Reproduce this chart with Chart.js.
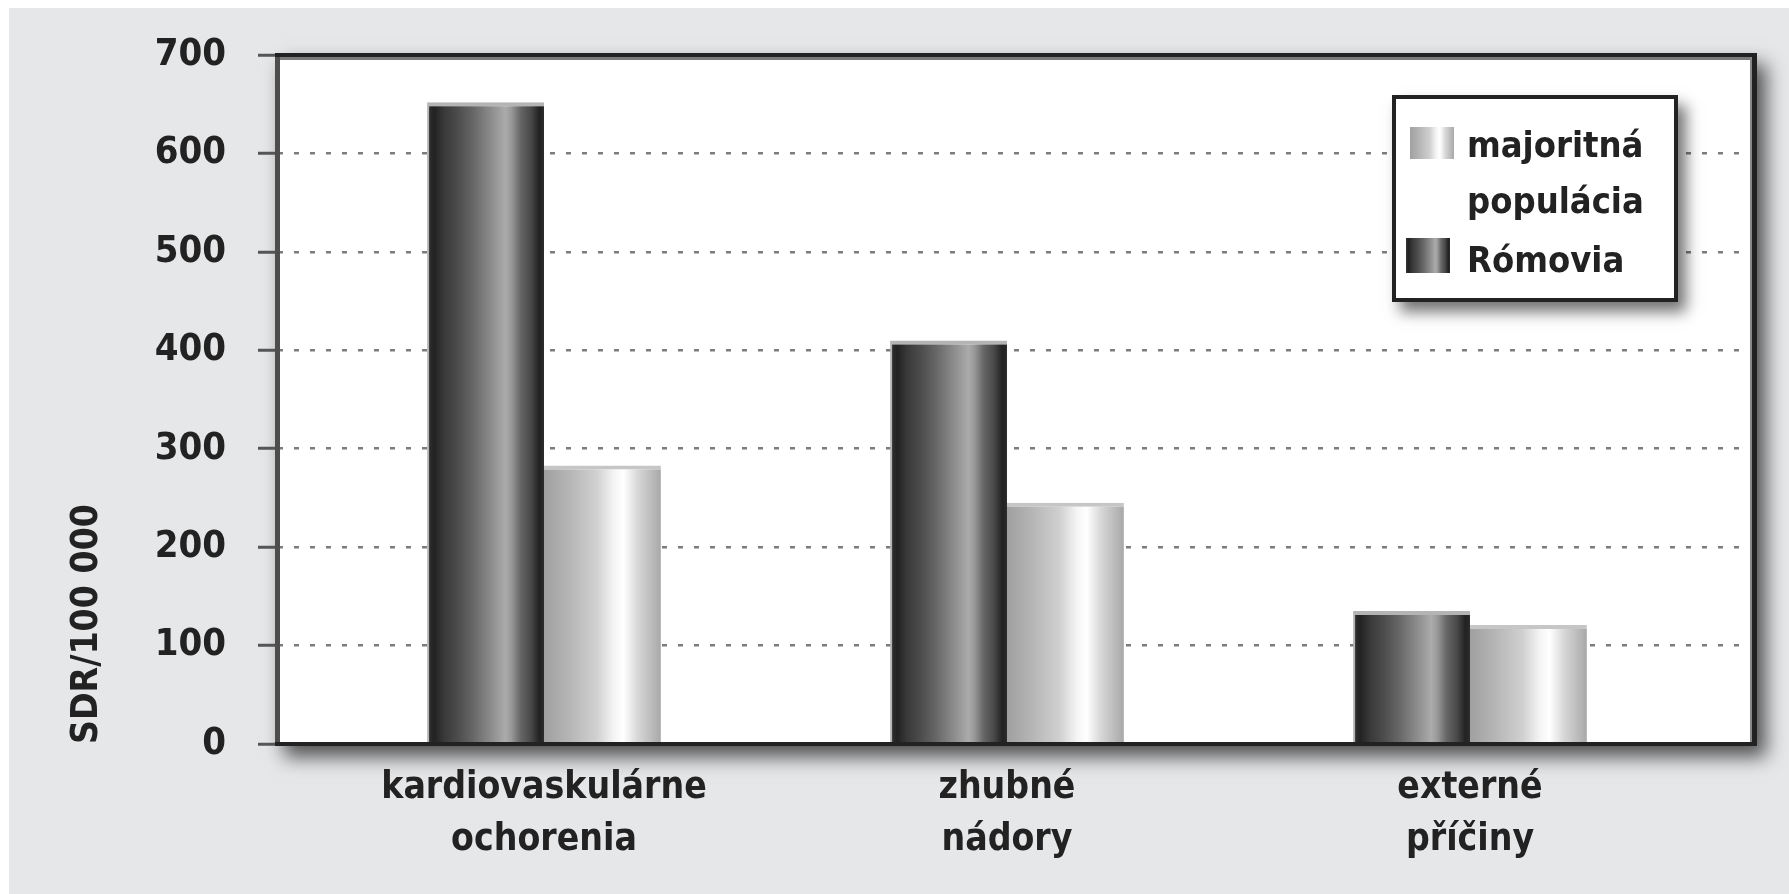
<!DOCTYPE html>
<html>
<head>
<meta charset="utf-8">
<title>SDR/100 000</title>
<script src="https://cdn.jsdelivr.net/npm/chart.js@4.4.1/dist/chart.umd.min.js"></script>
<style>
  html, body { margin: 0; padding: 0; background: #fff; }
  canvas { display: block; }
</style>
</head>
<body>
<canvas id="myChart" width="1789" height="894"></canvas>
<script>
// values
const categories = [['kardiovaskulárne', 'ochorenia'], ['zhubné', 'nádory'], ['externé', 'příčiny']];
const romovia = [652, 410, 135];
const majoritna = [283, 245, 121];
const seriesLabels = [['Rómovia'], ['majoritná', 'populácia']];
const yTicks = [0, 100, 200, 300, 400, 500, 600, 700];
const yTitle = 'SDR/100 000';

const FONT = '"Liberation Sans Narrow", "DejaVu Sans Condensed", sans-serif';
const TEXT = '#222';
const CAT_PCT = 0.505;

// cylinder-ish shading of the bars
const darkStops = [[0, '#333'], [0.06, '#222'], [0.15, '#3a3a3a'], [0.25, '#4a4a4a'], [0.39, '#666'],
  [0.53, '#888'], [0.67, '#ababab'], [0.72, '#999'], [0.8, '#666'], [0.89, '#484848'], [0.96, '#222'], [1, '#2a2a2a']];
const lightStops = [[0, '#a0a0a0'], [0.21, '#b5b5b5'], [0.45, '#d0d0d0'], [0.6, '#f5f5f5'], [0.68, '#ffffff'],
  [0.8, '#d8d8d8'], [1, '#a8a8a8']];
const stopsFor = [darkStops, lightStops];

const makeGradient = (ctx, x0, x1, stops) => {
  const g = ctx.createLinearGradient(x0, 0, x1, 0);
  stops.forEach(s => g.addColorStop(s[0], s[1]));
  return g;
};

const barFill = (context) => {
  const di = context.datasetIndex;
  const fallback = di === 0 ? '#555' : '#ccc';
  if (context.type !== 'data') return fallback;
  const xs = context.chart.scales.x;
  if (!xs) return fallback;
  const px = xs.getPixelForValue(context.dataIndex + 1);
  const step = xs.getPixelForValue(2) - xs.getPixelForValue(1);
  if (!isFinite(px) || !isFinite(step) || step <= 0) return fallback;
  const group = step * CAT_PCT;
  const w = group / 2;
  const left = px - group / 2 + di * w;
  return makeGradient(context.chart.ctx, left, left + w, stopsFor[di]);
};

// gray panel, white plot area with drop shadow, frame lines
const framePlugin = {
  id: 'frame',
  beforeDraw(chart) {
    const {ctx, chartArea: a} = chart;
    ctx.save();
    ctx.fillStyle = '#e6e7e9';
    ctx.fillRect(9, 8, chart.width - 9, chart.height - 8);
    ctx.shadowColor = 'rgba(0,0,0,0.65)';
    ctx.shadowBlur = 18;
    ctx.shadowOffsetX = 9;
    ctx.shadowOffsetY = 11;
    ctx.fillStyle = '#fff';
    ctx.fillRect(a.left - 3, a.top - 2, a.right - a.left + 6, a.bottom - a.top + 4);
    ctx.restore();
  },
  afterDatasetsDraw(chart) {
    const {ctx, chartArea: a} = chart;
    ctx.save();
    ctx.fillStyle = '#7a7a7a';
    ctx.fillRect(a.left, a.top + 2, a.right - a.left, 3);
    ctx.fillStyle = '#4d4d4d';
    ctx.fillRect(a.left - 3, a.top - 2, 5, a.bottom - a.top + 4);
    ctx.fillStyle = '#888';
    ctx.fillRect(a.right - 4, a.top, 2, a.bottom - a.top);
    ctx.fillStyle = '#222';
    ctx.fillRect(a.left - 3, a.top - 2, a.right - a.left + 6, 4);
    ctx.fillRect(a.right - 2, a.top - 2, 5, a.bottom - a.top + 4);
    ctx.fillRect(a.left - 3, a.bottom - 2, a.right - a.left + 6, 4);
    ctx.restore();
  }
};

// boxed legend in the upper right corner
const legendPlugin = {
  id: 'boxLegend',
  afterDraw(chart) {
    const {ctx} = chart;
    const bx = 1392, by = 95, bw = 286, bh = 207;
    ctx.save();
    ctx.shadowColor = 'rgba(0,0,0,0.55)';
    ctx.shadowBlur = 14;
    ctx.shadowOffsetX = 8;
    ctx.shadowOffsetY = 10;
    ctx.fillStyle = '#fff';
    ctx.fillRect(bx, by, bw, bh);
    ctx.restore();
    ctx.save();
    ctx.strokeStyle = '#222';
    ctx.lineWidth = 4;
    ctx.strokeRect(bx + 2, by + 2, bw - 4, bh - 4);

    ctx.font = 'bold 36px ' + FONT;
    ctx.fillStyle = TEXT;
    ctx.textBaseline = 'alphabetic';
    // majoritná populácia first, Rómovia second
    const order = [1, 0];
    const rows = [{sx: 1410, sy: 127, sh: 32, base: 157}, {sx: 1406, sy: 238, sh: 35, base: 272}];
    order.forEach((di, r) => {
      const row = rows[r];
      ctx.fillStyle = makeGradient(ctx, row.sx, row.sx + 44, stopsFor[di]);
      ctx.fillRect(row.sx, row.sy, 44, row.sh);
      ctx.fillStyle = TEXT;
      seriesLabels[di].forEach((line, k) => {
        ctx.fillText(line, 1467, row.base + k * 56);
      });
    });
    ctx.restore();
  }
};

const ctx = document.getElementById('myChart').getContext('2d');
new Chart(ctx, {
  type: 'bar',
  data: {
    datasets: [
      {
        label: seriesLabels[0].join(' '),
        data: romovia.map((v, i) => ({x: i + 1, y: v})),
        backgroundColor: barFill,
        borderColor: '#b4b4b4',
        borderWidth: {top: 4, left: 2, right: 0, bottom: 0},
        borderSkipped: 'start'
      },
      {
        label: seriesLabels[1].join(' '),
        data: majoritna.map((v, i) => ({x: i + 1, y: v})),
        backgroundColor: barFill,
        borderColor: '#c6c6c6',
        borderWidth: {top: 4, left: 0, right: 0, bottom: 0},
        borderSkipped: 'start'
      }
    ]
  },
  options: {
    responsive: false,
    animation: false,
    devicePixelRatio: 1,
    categoryPercentage: CAT_PCT,
    barPercentage: 1,
    layout: {padding: {top: 55, right: 35, bottom: 0, left: 0}},
    plugins: {
      legend: {display: false},
      tooltip: {enabled: false}
    },
    scales: {
      x: {
        type: 'linear',
        offset: false,
        min: 0.4255,
        max: 3.6134,
        afterBuildTicks: (scale) => {
          scale.ticks = categories.map((c, i) => ({value: i + 1}));
        },
        afterFit: (scale) => { scale.height = 150; },
        grid: {display: false, drawTicks: false},
        border: {display: false},
        ticks: {
          autoSkip: false,
          maxRotation: 0,
          padding: 18,
          color: TEXT,
          font: {family: FONT, size: 37, weight: 'bold', lineHeight: 1.42},
          callback: (value) => categories[value - 1]
        }
      },
      y: {
        min: yTicks[0],
        max: yTicks[yTicks.length - 1],
        afterBuildTicks: (scale) => {
          scale.ticks = yTicks.map(v => ({value: v}));
        },
        afterFit: (scale) => { scale.width = 278; },
        grid: {
          color: (c) => (c.tick && (c.tick.value === 0 || c.tick.value === 700)) ? 'rgba(0,0,0,0)' : '#7c7c7c',
          lineWidth: 2.5,
          drawTicks: true,
          tickLength: 20,
          tickColor: '#555',
          tickWidth: 3
        },
        border: {display: false, dash: [5, 11]},
        ticks: {
          padding: 32,
          color: TEXT,
          font: {family: FONT, size: 38, weight: 'bold'}
        },
        title: {
          display: true,
          text: yTitle,
          align: 'start',
          color: TEXT,
          font: {family: FONT, size: 37, weight: 'bold'},
          padding: {top: 65, bottom: 0}
        }
      }
    }
  },
  plugins: [framePlugin, legendPlugin]
});
</script>
</body>
</html>
